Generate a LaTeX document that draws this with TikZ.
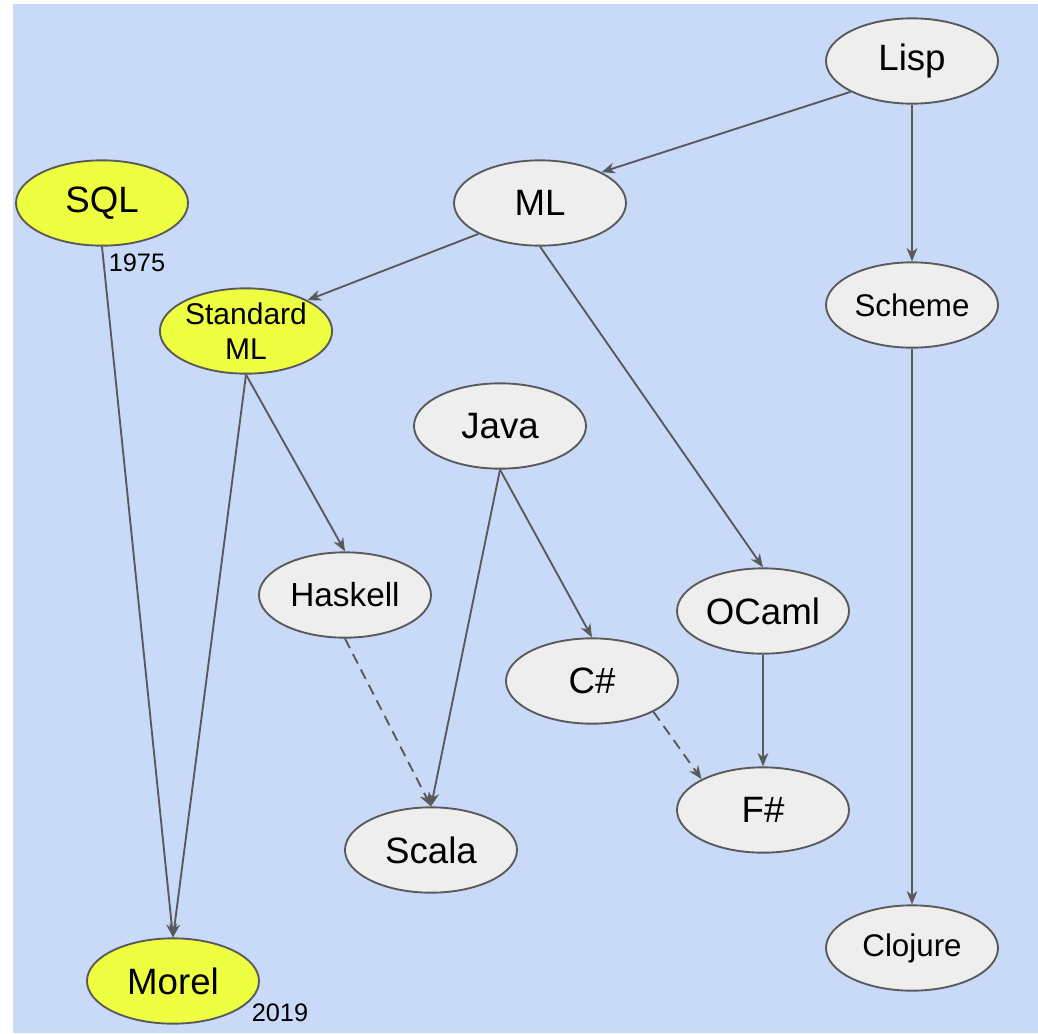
\documentclass[tikz,border=0pt]{standalone}
\usepackage{fontspec}
\setmainfont{Liberation Sans}
\usetikzlibrary{shapes.geometric,arrows.meta}
\definecolor{bgblue}{HTML}{C9DAF8}
\definecolor{nodegray}{HTML}{EEEEEE}
\definecolor{nodeyellow}{HTML}{EEFF41}
\definecolor{linegray}{HTML}{595959}
\begin{document}
\begin{tikzpicture}[x=0.75pt,y=-0.75pt,
  lang/.style={ellipse,draw=linegray,line width=1.4pt,fill=nodegray,
    minimum width=129pt,minimum height=64pt,inner sep=0pt,text=black},
  hl/.style={lang,fill=nodeyellow},
  big/.style={font=\fontsize{27.5}{32}\selectfont},
  mid/.style={font=\fontsize{25}{30}\selectfont},
  small/.style={font=\fontsize{23.5}{27}\selectfont},
  smaller/.style={font=\fontsize{22.5}{26}\selectfont},
  year/.style={font=\fontsize{19}{22}\selectfont,inner sep=0pt,text=black},
  edge/.style={draw=linegray,line width=1.4pt,
    -{Stealth[length=10pt,width=8pt,inset=3pt]}},
  dashedge/.style={edge,dash pattern=on 8pt off 5pt}]
\useasboundingbox (0,0) rectangle (1038,1033);
\fill[bgblue] (13,4) rectangle (1038,1033);

\node[lang,big] (lisp) at (912,61) {Lisp};
\node[lang,big] (ml) at (540,203) {ML};
\node[hl,big] (sql) at (102,203) {SQL};
\node[hl,smaller,align=center] (sml) at (246,331) {Standard\\ML};
\node[lang,small] (scheme) at (912,305) {Scheme};
\node[lang,big] (java) at (500,426) {Java};
\node[lang,mid] (haskell) at (345,595) {Haskell};
\node[lang,big] (ocaml) at (763,611) {OCaml};
\node[lang,big] (csharp) at (592,681) {C\#};
\node[lang,big] (fsharp) at (763,810) {F\#};
\node[lang,big] (scala) at (431,850) {Scala};
\node[lang,small] (clojure) at (912,948) {Clojure};
\node[hl,big] (morel) at (173,981) {Morel};

\node[year] (y1975) at (137,263) {1975};
\node[year] (y2019) at (280,1013) {2019};

\draw[edge] (lisp.south west) -- (ml.north east);
\draw[edge] (lisp.south) -- (scheme.north);
\draw[edge] (ml.south west) -- (sml.north east);
\draw[edge] (ml.south) -- (ocaml.north);
\draw[edge] (sql.south) -- (morel.north);
\draw[edge] (sml.south) -- (morel.north);
\draw[edge] (sml.south) -- (haskell.north);
\draw[edge] (java.south) -- (scala.north);
\draw[edge] (java.south) -- (csharp.north);
\draw[dashedge] (haskell.south) -- (scala.north);
\draw[edge] (ocaml.south) -- (fsharp.north);
\draw[dashedge] (csharp.south east) -- (fsharp.north west);
\draw[edge] (scheme.south) -- (clojure.north);
\end{tikzpicture}
\end{document}
